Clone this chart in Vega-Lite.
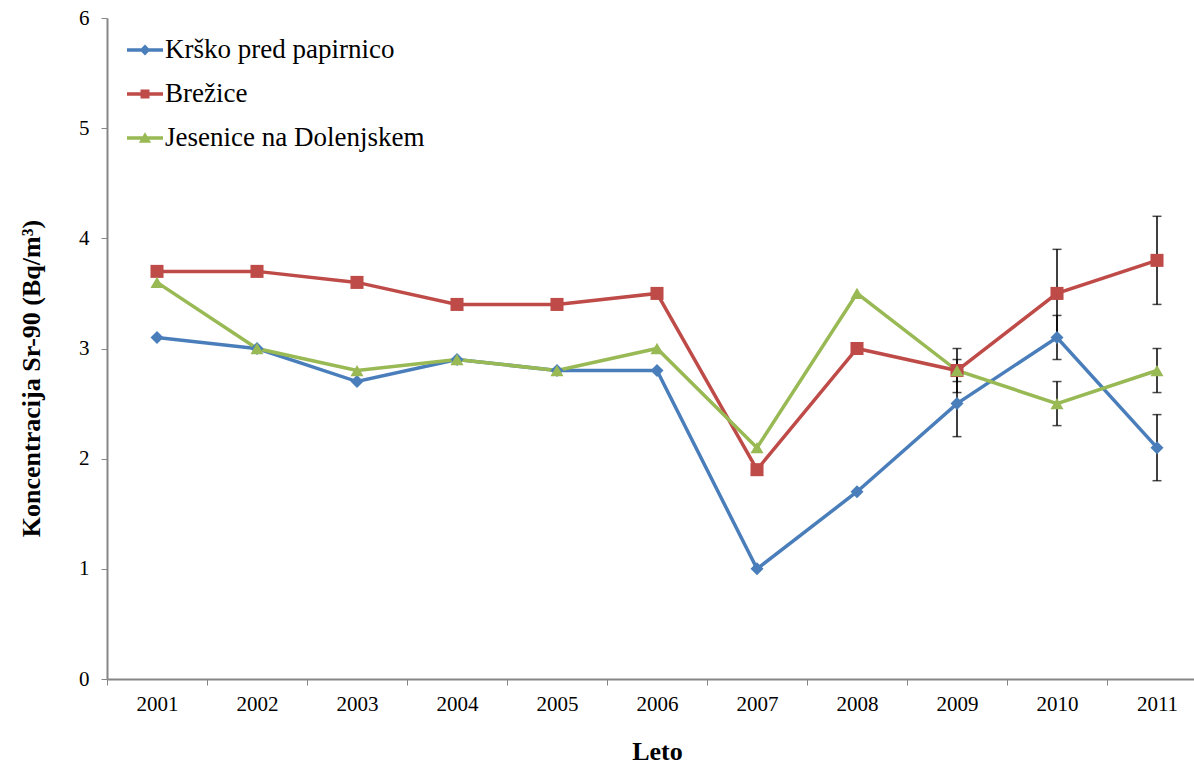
{
  "$schema": "https://vega.github.io/schema/vega-lite/v6.json",
  "autosize": "none",
  "padding": {"left": 107, "top": 18, "right": 0, "bottom": 86},
  "width": 1087,
  "height": 661,
  "background": "white",
  "config": {
    "view": {"stroke": null},
    "font": "Times New Roman, Liberation Serif, serif"
  },
  "data": {
    "values": [
      {"year": "2001", "series": "Krško pred papirnico", "value": 3.1, "lo": null, "hi": null},
      {"year": "2002", "series": "Krško pred papirnico", "value": 3.0, "lo": null, "hi": null},
      {"year": "2003", "series": "Krško pred papirnico", "value": 2.7, "lo": null, "hi": null},
      {"year": "2004", "series": "Krško pred papirnico", "value": 2.9, "lo": null, "hi": null},
      {"year": "2005", "series": "Krško pred papirnico", "value": 2.8, "lo": null, "hi": null},
      {"year": "2006", "series": "Krško pred papirnico", "value": 2.8, "lo": null, "hi": null},
      {"year": "2007", "series": "Krško pred papirnico", "value": 1.0, "lo": null, "hi": null},
      {"year": "2008", "series": "Krško pred papirnico", "value": 1.7, "lo": null, "hi": null},
      {"year": "2009", "series": "Krško pred papirnico", "value": 2.5, "lo": 2.2, "hi": 2.8},
      {"year": "2010", "series": "Krško pred papirnico", "value": 3.1, "lo": 2.9, "hi": 3.3},
      {"year": "2011", "series": "Krško pred papirnico", "value": 2.1, "lo": 1.8, "hi": 2.4},
      {"year": "2001", "series": "Brežice", "value": 3.7, "lo": null, "hi": null},
      {"year": "2002", "series": "Brežice", "value": 3.7, "lo": null, "hi": null},
      {"year": "2003", "series": "Brežice", "value": 3.6, "lo": null, "hi": null},
      {"year": "2004", "series": "Brežice", "value": 3.4, "lo": null, "hi": null},
      {"year": "2005", "series": "Brežice", "value": 3.4, "lo": null, "hi": null},
      {"year": "2006", "series": "Brežice", "value": 3.5, "lo": null, "hi": null},
      {"year": "2007", "series": "Brežice", "value": 1.9, "lo": null, "hi": null},
      {"year": "2008", "series": "Brežice", "value": 3.0, "lo": null, "hi": null},
      {"year": "2009", "series": "Brežice", "value": 2.8, "lo": 2.6, "hi": 3.0},
      {"year": "2010", "series": "Brežice", "value": 3.5, "lo": 3.1, "hi": 3.9},
      {"year": "2011", "series": "Brežice", "value": 3.8, "lo": 3.4, "hi": 4.2},
      {"year": "2001", "series": "Jesenice na Dolenjskem", "value": 3.6, "lo": null, "hi": null},
      {"year": "2002", "series": "Jesenice na Dolenjskem", "value": 3.0, "lo": null, "hi": null},
      {"year": "2003", "series": "Jesenice na Dolenjskem", "value": 2.8, "lo": null, "hi": null},
      {"year": "2004", "series": "Jesenice na Dolenjskem", "value": 2.9, "lo": null, "hi": null},
      {"year": "2005", "series": "Jesenice na Dolenjskem", "value": 2.8, "lo": null, "hi": null},
      {"year": "2006", "series": "Jesenice na Dolenjskem", "value": 3.0, "lo": null, "hi": null},
      {"year": "2007", "series": "Jesenice na Dolenjskem", "value": 2.1, "lo": null, "hi": null},
      {"year": "2008", "series": "Jesenice na Dolenjskem", "value": 3.5, "lo": null, "hi": null},
      {"year": "2009", "series": "Jesenice na Dolenjskem", "value": 2.8, "lo": 2.7, "hi": 2.9},
      {"year": "2010", "series": "Jesenice na Dolenjskem", "value": 2.5, "lo": 2.3, "hi": 2.7},
      {"year": "2011", "series": "Jesenice na Dolenjskem", "value": 2.8, "lo": 2.6, "hi": 3.0}
    ]
  },
  "encoding": {
    "x": {
      "field": "year",
      "type": "nominal",
      "scale": {"type": "band", "range": [0, 1100], "paddingInner": 0, "paddingOuter": 0},
      "axis": {
        "title": "Leto",
        "titleFont": "Times New Roman, Liberation Serif, serif",
        "titleFontSize": 26,
        "titleFontWeight": "bold",
        "titleColor": "black",
        "titlePadding": 24,
        "labelAngle": 0,
        "labelFont": "Times New Roman, Liberation Serif, serif",
        "labelFontSize": 21,
        "labelColor": "black",
        "labelPadding": 8,
        "tickBand": "extent",
        "tickSize": 6,
        "tickColor": "#868686",
        "domainColor": "#868686",
        "domainWidth": 2,
        "grid": false
      }
    },
    "y": {
      "field": "value",
      "type": "quantitative",
      "scale": {"domain": [0, 6], "nice": false},
      "axis": {
        "title": "Koncentracija Sr-90 (Bq/m³)",
        "titleFont": "Times New Roman, Liberation Serif, serif",
        "titleFontSize": 26,
        "titleFontWeight": "bold",
        "titleColor": "black",
        "titlePadding": 34,
        "titleY": 360,
        "values": [0, 1, 2, 3, 4, 5, 6],
        "format": "d",
        "labelFont": "Times New Roman, Liberation Serif, serif",
        "labelFontSize": 21,
        "labelColor": "black",
        "labelPadding": 12,
        "tickSize": 6,
        "tickColor": "#868686",
        "domainColor": "#868686",
        "domainWidth": 2,
        "grid": false
      }
    }
  },
  "layer": [
    {
      "transform": [{"filter": "datum.value < 0"}],
      "mark": {"type": "point", "filled": true, "opacity": 1, "strokeWidth": 0},
      "encoding": {
        "color": {
          "field": "series",
          "type": "nominal",
          "scale": {
            "domain": ["Krško pred papirnico", "Brežice", "Jesenice na Dolenjskem"],
            "range": ["#4A7EBB", "#BE4B48", "#98B954"]
          },
          "legend": {
            "title": null,
            "orient": "none",
            "legendX": 20,
            "legendY": 14,
            "labelFont": "Times New Roman, Liberation Serif, serif",
            "labelFontSize": 27,
            "labelColor": "black",
            "labelOffset": 2,
            "labelLimit": 500,
            "symbolSize": 1296,
            "symbolStrokeWidth": 0,
            "rowPadding": 13
          }
        },
        "shape": {
          "field": "series",
          "type": "nominal",
          "scale": {
            "domain": ["Krško pred papirnico", "Brežice", "Jesenice na Dolenjskem"],
            "range": [
              "M-1,-0.1L1,-0.1L1,0.1L-1,0.1Z M0,-0.3L0.3,0L0,0.3L-0.3,0Z",
              "M-1,-0.1L1,-0.1L1,0.1L-1,0.1Z M-0.25,-0.25L0.25,-0.25L0.25,0.25L-0.25,0.25Z",
              "M-1,-0.1L1,-0.1L1,0.1L-1,0.1Z M0,-0.32L0.34,0.26L-0.34,0.26Z"
            ]
          },
          "legend": {
            "title": null,
            "orient": "none",
            "legendX": 20,
            "legendY": 14,
            "labelFont": "Times New Roman, Liberation Serif, serif",
            "labelFontSize": 27,
            "labelColor": "black",
            "labelOffset": 2,
            "labelLimit": 500,
            "symbolSize": 1296,
            "symbolStrokeWidth": 0,
            "rowPadding": 13
          }
        }
      }
    },
    {
      "transform": [{"filter": "datum.lo != null"}],
      "mark": {"type": "rule", "color": "black", "strokeWidth": 1.5},
      "encoding": {
        "y": {"field": "lo", "type": "quantitative"},
        "y2": {"field": "hi"}
      }
    },
    {
      "transform": [{"filter": "datum.lo != null"}],
      "mark": {"type": "tick", "color": "black", "size": 9, "thickness": 1.5, "orient": "horizontal"},
      "encoding": {"y": {"field": "lo", "type": "quantitative"}}
    },
    {
      "transform": [{"filter": "datum.lo != null"}],
      "mark": {"type": "tick", "color": "black", "size": 9, "thickness": 1.5, "orient": "horizontal"},
      "encoding": {"y": {"field": "hi", "type": "quantitative"}}
    },
    {
      "mark": {"type": "line", "strokeWidth": 3.5},
      "encoding": {
        "color": {"field": "series", "type": "nominal"}
      }
    },
    {
      "transform": [{"filter": "datum.series === 'Krško pred papirnico'"}],
      "mark": {"type": "point", "filled": true, "size": 170, "opacity": 1, "shape": "diamond"},
      "encoding": {"color": {"field": "series", "type": "nominal"}}
    },
    {
      "transform": [{"filter": "datum.series === 'Brežice'"}],
      "mark": {"type": "point", "filled": true, "size": 170, "opacity": 1, "shape": "square"},
      "encoding": {"color": {"field": "series", "type": "nominal"}}
    },
    {
      "transform": [{"filter": "datum.series === 'Jesenice na Dolenjskem'"}],
      "mark": {"type": "point", "filled": true, "size": 170, "opacity": 1, "shape": "triangle-up"},
      "encoding": {"color": {"field": "series", "type": "nominal"}}
    }
  ]
}
